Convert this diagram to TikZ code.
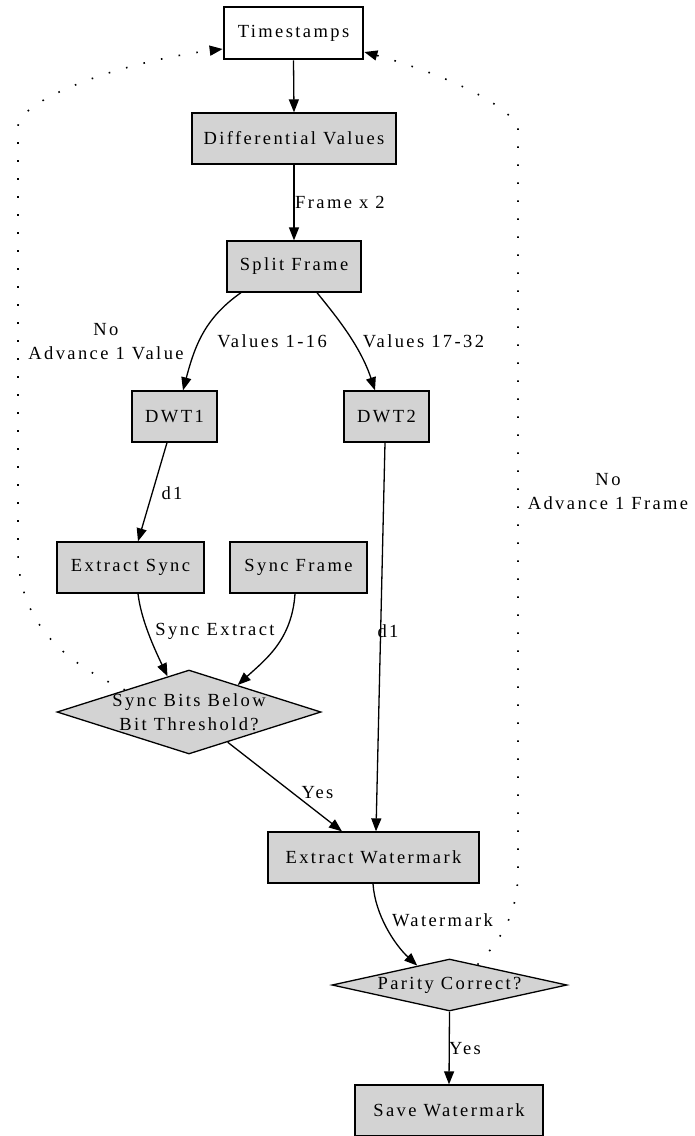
\documentclass[tikz,border=0pt]{standalone}
\usepackage{fontspec}
\setmainfont{Liberation Serif}[LetterSpace=13]
\usetikzlibrary{shapes.geometric,arrows.meta}
\definecolor{gfill}{HTML}{D3D3D3}
\begin{document}
\begin{tikzpicture}[x=1pt,y=-1pt,
  every node/.style={font=\fontsize{18.5}{24}\selectfont},
  box/.style={draw, line width=1.3pt, fill=gfill, minimum height=51pt, inner sep=0pt, align=center},
  dec/.style={draw, shape=diamond, line width=1.3pt, fill=gfill, inner sep=0pt},
  edge/.style={line width=1.3pt, -{Triangle[length=13pt,width=10pt]}},
  back/.style={line width=1.6pt, dash pattern=on 1.6pt off 16.4pt, -{Triangle[length=13pt,width=10pt]}},
  lbl/.style={inner sep=0pt}
]
\useasboundingbox (0,0) rectangle (694,1136);

% nodes
\node[box, line width=2.7pt, fill=white, minimum width=139pt, minimum height=52pt] (ts) at (293.5,33) {Timestamps};
\node[box, minimum width=204pt] (dv) at (294,138.5) {Differential Values};
\node[box, minimum width=134pt] (sf) at (294,266.5) {Split Frame};
\node[box, minimum width=85pt] (dwt1) at (174.5,416.5) {DWT1};
\node[box, minimum width=85pt] (dwt2) at (386.5,416.5) {DWT2};
\node[box, minimum width=147pt] (es) at (130.5,567.5) {Extract Sync};
\node[box, minimum width=137pt] (sfr) at (298.5,567.5) {Sync Frame};
\node[dec, minimum width=264pt, minimum height=84pt,
      label={[name=sbbt, align=center]center:Sync Bits Below\\Bit Threshold?}] (sbb) at (189,712) {};
\node[box, minimum width=211pt] (ew) at (373.5,857.5) {Extract Watermark};
\node[dec, minimum width=235pt, minimum height=52pt,
      label={[name=pct]center:Parity Correct?}] (pc) at (449.5,985) {};
\node[box, minimum width=188pt] (sw) at (449,1110.5) {Save Watermark};

% edge labels
\node[lbl, anchor=west] (l1) at (295,202) {Frame x 2};
\node[lbl] (l2) at (272,341) {Values 1-16};
\node[lbl] (l3) at (423.5,341) {Values 17-32};
\node[lbl, align=center] (l4) at (106,341.5) {No\\Advance 1 Value};
\node[lbl] (l5) at (172,493) {d1};
\node[lbl] (l6) at (215,631) {Sync Extract};
\node[lbl] (l7) at (388,631) {d1};
\node[lbl] (l8) at (317.5,793) {Yes};
\node[lbl, align=center] (l9) at (608,492) {No\\Advance 1 Frame};
\node[lbl] (l10) at (442.5,920) {Watermark};
\node[lbl] (l11) at (465,1049) {Yes};

% edges
\draw[edge] (ts.south) -- (dv.north);
\draw[edge] (dv.south) -- (sf.north);
\draw[edge] ([xshift=-53pt]sf.south) .. controls (205,318) and (195,345) .. ([xshift=8.5pt]dwt1.north);
\draw[edge] ([xshift=23pt]sf.south) .. controls (335,315) and (360,345) .. ([xshift=-11.5pt]dwt2.north);
\draw[edge] ([xshift=-7.5pt]dwt1.south) -- ([xshift=7.5pt]es.north);
\draw[edge] ([xshift=-1.5pt]dwt2.south) -- ([xshift=2.5pt]ew.north);
\draw[edge] ([xshift=7.5pt]es.south) .. controls (141,620) and (155,650) .. (sbb.121);
\draw[edge] ([xshift=-3.5pt]sfr.south) .. controls (292,640) and (265,660) .. (sbb.29);
\draw[edge] (sbb.-38) -- ([xshift=-31.5pt]ew.north);
\draw[edge] ([xshift=-0.5pt]ew.south) .. controls (375,915) and (395,945) .. (pc.149);
\draw[edge] (pc.south) -- (sw.north);
\draw[back] (sbb.161) .. controls (60,660) and (18,620) .. (18,550) -- (18,127)
   .. controls (18,100) and (120,62) .. ([yshift=-16pt]ts.west);
\draw[back] (pc.36) .. controls (505,935) and (518,910) .. (518,870) -- (518,127)
   .. controls (505,100) and (430,70) .. ([yshift=-19pt]ts.east);
\end{tikzpicture}
\end{document}
